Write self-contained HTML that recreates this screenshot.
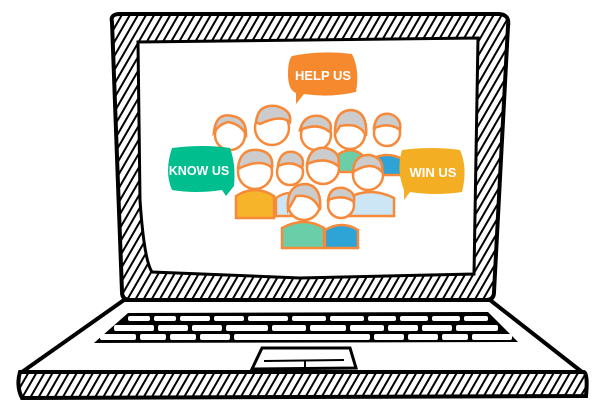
<!DOCTYPE html>
<html><head><style>body{margin:0;background:#fff}svg{display:block}</style></head><body>
<svg width="600" height="400" viewBox="0 0 600 400" xmlns="http://www.w3.org/2000/svg" font-family="Liberation Sans, sans-serif">
<defs>
<pattern id="h" width="7" height="7" patternUnits="userSpaceOnUse" patternTransform="rotate(30)">
<rect width="7" height="7" fill="#fff"/><rect width="2" height="7" fill="#000"/></pattern>
</defs>
<!-- lid -->
<path d="M112 22 Q110 14 120 14 L498 14 Q510 14 508 26 L494 292 Q494 300 486 300 L130 300 Q122 300 122 292 Z" fill="url(#h)" stroke="#000" stroke-width="4"/>
<path d="M138 42 L478 38 L474 274 L300 278 L152 272 Q144 260 140 200 Z" fill="#fff" stroke="#000" stroke-width="3"/>
<!-- base -->
<path d="M124 300 L490 300 L582 372 L22 372 Z" fill="#fff" stroke="#000" stroke-width="4" stroke-linejoin="round"/>
<path d="M20 372 L584 372 Q588 374 586 396 L22 398 Q16 386 20 372 Z" fill="url(#h)" stroke="#000" stroke-width="4"/>
<!-- keyboard -->
<path d="M128 313 L488 312 L518 342 L94 343 Z" fill="#000"/>
<g fill="#fff">
<rect x="128" y="316" width="22" height="5" rx="2"/><rect x="154" y="316" width="22" height="5" rx="2"/><rect x="180" y="316" width="30" height="5" rx="2"/><rect x="214" y="316" width="30" height="5" rx="2"/><rect x="248" y="316" width="40" height="5" rx="2"/><rect x="292" y="316" width="34" height="5" rx="2"/><rect x="330" y="316" width="34" height="5" rx="2"/><rect x="368" y="316" width="28" height="5" rx="2"/><rect x="400" y="316" width="28" height="5" rx="2"/><rect x="432" y="316" width="28" height="5" rx="2"/><rect x="464" y="316" width="24" height="5" rx="2"/>
<rect x="114" y="325" width="40" height="6" rx="2"/><rect x="158" y="325" width="30" height="6" rx="2"/><rect x="192" y="325" width="30" height="6" rx="2"/><rect x="226" y="325" width="42" height="6" rx="2"/><rect x="272" y="325" width="34" height="6" rx="2"/><rect x="310" y="325" width="36" height="6" rx="2"/><rect x="350" y="325" width="34" height="6" rx="2"/><rect x="388" y="325" width="30" height="6" rx="2"/><rect x="422" y="325" width="30" height="6" rx="2"/><rect x="456" y="325" width="42" height="6" rx="2"/>
<rect x="100" y="334" width="36" height="6" rx="2"/><rect x="140" y="334" width="26" height="6" rx="2"/><rect x="170" y="334" width="26" height="6" rx="2"/><rect x="200" y="334" width="30" height="6" rx="2"/><rect x="234" y="334" width="136" height="6" rx="2"/><rect x="374" y="334" width="30" height="6" rx="2"/><rect x="408" y="334" width="30" height="6" rx="2"/><rect x="442" y="334" width="26" height="6" rx="2"/><rect x="472" y="334" width="40" height="6" rx="2"/>
</g>
<path d="M262 348 L350 348 L356 368 L252 369 Z" fill="#fff" stroke="#000" stroke-width="3"/>
<line x1="264" y1="361" x2="344" y2="360" stroke="#000" stroke-width="2"/><line x1="305" y1="361" x2="305" y2="368" stroke="#000" stroke-width="2"/>
<!-- people -->
<g stroke="#f6893a" stroke-width="2.5">
<circle cx="230" cy="135" r="15" fill="#fff"/><path d="M214 132 Q216 112 232 116 Q246 118 246 134 Q240 124 228 122 Q220 124 214 132Z" fill="#ccc"/>
<circle cx="272" cy="128" r="17" fill="#fff"/><path d="M256 122 Q258 104 276 106 Q292 110 290 122 Q280 114 260 124Z" fill="#ccc"/>
<circle cx="316" cy="135" r="15" fill="#fff"/><path d="M300 130 Q304 114 320 116 Q334 120 330 132 Q318 122 300 130Z" fill="#ccc"/>
<circle cx="350" cy="134" r="15" fill="#fff"/><path d="M335 134 Q334 110 352 110 Q368 112 366 136 Q360 122 340 126Z" fill="#ccc"/>
<circle cx="387" cy="133" r="13" fill="#fff"/><path d="M374 128 Q376 112 390 114 Q402 118 400 130 Q390 122 374 128Z" fill="#ccc"/>
<path d="M370 175 L370 160 Q387 150 404 160 L404 175Z" fill="#2ea3d6"/>
<path d="M332 172 Q332 152 350 150 Q368 152 368 172Z" fill="#6acfa8"/>
<path d="M236 218 L236 196 Q255 184 274 196 L274 218Z" fill="#f6b42a"/>
<circle cx="255" cy="172" r="17" fill="#fff"/><path d="M238 168 Q240 148 258 150 Q274 152 272 168 Q262 158 240 168Z" fill="#ccc"/>
<path d="M276 216 L276 198 Q290 188 304 198 L304 216Z" fill="#cde6f5"/>
<circle cx="290" cy="172" r="13" fill="#fff"/><path d="M278 166 Q280 150 294 152 Q306 156 302 168 Q292 160 278 166Z" fill="#ccc"/>
<circle cx="323" cy="168" r="16" fill="#fff"/><path d="M307 164 Q310 146 326 148 Q342 152 338 166 Q326 156 307 164Z" fill="#ccc"/>
<path d="M348 216 L348 198 Q370 186 394 198 L394 216Z" fill="#cde6f5"/>
<circle cx="368" cy="175" r="15" fill="#fff"/><path d="M353 172 Q354 154 370 155 Q384 158 382 172 Q372 160 353 172Z" fill="#ccc"/>
<path d="M282 248 L282 228 Q304 216 324 228 L324 248Z" fill="#6acfa8"/>
<circle cx="304" cy="204" r="16" fill="#fff"/><path d="M288 210 Q286 184 306 184 Q322 186 320 210 Q314 194 296 196Z" fill="#ccc"/>
<path d="M325 248 L325 230 Q342 220 358 230 L358 248Z" fill="#2ea3d6"/>
<circle cx="341" cy="205" r="13" fill="#fff"/><path d="M328 200 Q330 186 344 188 Q356 192 354 202 Q344 194 328 200Z" fill="#ccc"/>
</g>
<!-- bubbles -->
<path d="M292 56 Q322 50 352 54 Q360 70 356 92 Q330 98 304 94 L296 104 L296 93 Q288 90 288 74 Q288 60 292 56Z" fill="#f6892e"/>
<text x="323" y="80" fill="#fff" font-size="13" font-weight="bold" text-anchor="middle">HELP US</text>
<path d="M172 148 Q204 144 230 148 Q236 164 234 186 L226 196 L222 190 Q196 194 172 190 Q164 172 172 148Z" fill="#00be8e"/>
<text x="199" y="175" fill="#fff" font-size="12.5" font-weight="bold" text-anchor="middle">KNOW US</text>
<path d="M402 150 Q432 146 460 150 Q468 168 462 192 Q436 196 410 192 L404 200 L404 190 Q396 170 402 150Z" fill="#f4ae24"/>
<text x="433" y="177" fill="#fff" font-size="13" font-weight="bold" text-anchor="middle">WIN US</text>
</svg>
</body></html>
